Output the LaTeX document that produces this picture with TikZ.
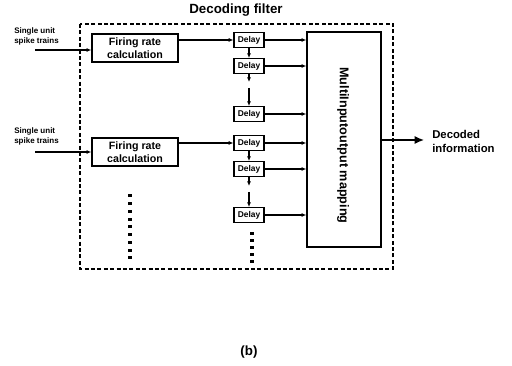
\documentclass[tikz,border=0pt]{standalone}
\usepackage{fontspec}
\setmainfont{Liberation Sans}
\usetikzlibrary{arrows.meta}
\begin{document}
\begin{tikzpicture}[x=0.75pt,y=-0.75pt,
  frbox/.style={draw, line width=1pt, minimum width=64.5pt, minimum height=21pt, inner sep=0pt, align=center, font=\bfseries\fontsize{8}{9.5}\selectfont},
  dbox/.style={draw, line width=0.9pt, minimum width=22.5pt, minimum height=11pt, inner sep=0pt, font=\bfseries\fontsize{6.3}{7}\selectfont},
  arr/.style={-{Latex[length=3.5pt,width=3pt]}, line width=1pt},
  bigarr/.style={-{Latex[length=7pt,width=6pt]}, line width=1pt},
  lbl/.style={inner sep=0pt, align=left, font=\bfseries\fontsize{6}{7.5}\selectfont},
  dot/.style={fill=black}]
\useasboundingbox (0,0) rectangle (512,366);
% frame and title
\draw[line width=1.1pt, dash pattern=on 3pt off 1.8pt] (80,24) rectangle (393,269);
\node[font=\bfseries\fontsize{10}{12}\selectfont, inner sep=0pt] (title) at (236,10) {Decoding filter};
% firing rate boxes
\node[frbox] (fr1) at (135,48) {Firing rate\\calculation};
\node[frbox] (fr2) at (135,152) {Firing rate\\calculation};
% delays
\node[dbox] (d1) at (249,40) {Delay};
\node[dbox] (d2) at (249,66) {Delay};
\node[dbox] (d3) at (249,114) {Delay};
\node[dbox] (d4) at (249,143) {Delay};
\node[dbox] (d5) at (249,169) {Delay};
\node[dbox] (d6) at (249,215) {Delay};
% mapping box
\node[draw, line width=1pt, minimum width=55.5pt, minimum height=161.25pt, inner sep=0pt] (mm) at (344,139.5) {};
\node[rotate=-90, inner sep=0pt, font=\bfseries\fontsize{9.5}{10}\selectfont] (mmt) at (343,145.5) {MultiInputoutput mapping};
% labels
\node[lbl, anchor=west] (l1) at (14,36) {Single unit\\spike trains};
\node[lbl, anchor=west] (l2) at (14,136) {Single unit\\spike trains};
\node[inner sep=0pt, align=left, anchor=west, font=\bfseries\fontsize{8.5}{10.5}\selectfont] (dec) at (432,141) {Decoded\\information};
\node[inner sep=0pt, font=\bfseries\fontsize{10}{12}\selectfont] (cap) at (249,352) {(b)};
% inputs
\coordinate (in1) at (35,50);
\coordinate (in2) at (35,152);
\draw[arr] (in1) -- (in1 -| fr1.west);
\draw[arr] (in2) -- (in2 -| fr2.west);
% firing -> delay
\draw[arr] (d1.west -| fr1.east) -- (d1.west);
\draw[arr] (d4.west -| fr2.east) -- (d4.west);
% delay chains
\draw[arr] (d1.south) -- (d2.north);
\coordinate (b1) at (249,82);
\coordinate (b2) at (249,88);
\draw[arr] (d2.south) -- (b1);
\draw[arr] (b2) -- (d3.north);
\draw[arr] (d4.south) -- (d5.north);
\coordinate (b3) at (249,186);
\coordinate (b4) at (249,192);
\draw[arr] (d5.south) -- (b3);
\draw[arr] (b4) -- (d6.north);
% delay -> mapping
\foreach \d in {d1,d2,d3,d4,d5,d6}
  \draw[arr] (\d.east) -- (\d.east -| mm.west);
% output
\coordinate (out) at (424,140);
\draw[bigarr] (mm.east |- out) -- (out);
% dots
\foreach \i in {0,...,8}
  \fill[dot] (128,{194.5+7.75*\i}) rectangle ++(4,3);
\foreach \i in {0,...,4}
  \fill[dot] (250,{232.5+7*\i}) rectangle ++(4,3);
\end{tikzpicture}
\end{document}
